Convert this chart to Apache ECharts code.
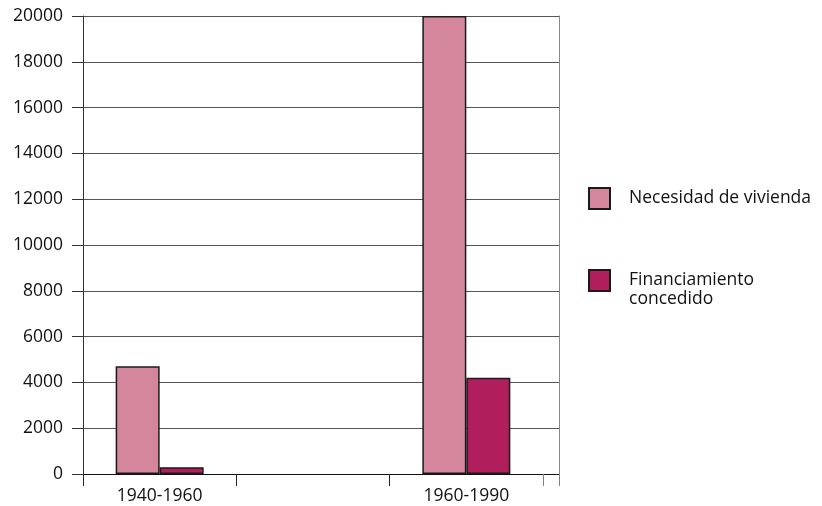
<!DOCTYPE html>
<html><head><meta charset="utf-8">
<script src="https://cdn.jsdelivr.net/npm/echarts@6/dist/echarts.min.js"></script>
<style>html,body{margin:0;padding:0;background:#fff}#c{width:822px;height:506px}</style>
</head><body><div id="c"></div>
<script>
const categories = ["1940-1960", "", "1960-1990"];
const seriesNames = ["Necesidad de vivienda", "Financiamiento concedido"];
const necesidad = [4700, null, 20000];
const financiamiento = [300, null, 4200];
const yTicks = {min: 0, max: 20000, interval: 2000};

const FONT = "Open Sans";
const FS = 17.5;
const chart = echarts.init(document.getElementById('c'));
const gridTop = 16, gridBottom = 506 - 474;
chart.setOption({
  animation: false,
  textStyle: {fontFamily: FONT},
  grid: [
    {left: 83, width: 460, top: gridTop, bottom: gridBottom},
    {left: 543, width: 16, top: gridTop, bottom: gridBottom}
  ],
  xAxis: [
    {type: 'category', gridIndex: 0, data: categories,
     axisLine: {lineStyle: {color: '#111', width: 1}},
     axisTick: {show: true, length: 12, lineStyle: {color: '#222'}},
     axisLabel: {color: '#111', fontSize: FS, fontFamily: FONT, margin: 13}},
    {type: 'category', gridIndex: 1, data: [""],
     axisLine: {lineStyle: {color: '#111', width: 1}},
     axisTick: {show: true, length: 12, lineStyle: {color: '#808080'}},
     axisLabel: {show: false}}
  ],
  yAxis: [
    {type: 'value', gridIndex: 0, min: yTicks.min, max: yTicks.max, interval: yTicks.interval,
     axisLine: {show: true, lineStyle: {color: '#333'}},
     axisTick: {show: true, length: 11, lineStyle: {color: '#333'}},
     splitLine: {lineStyle: {color: '#555', width: 1}},
     axisLabel: {color: '#111', fontSize: FS, fontFamily: FONT, margin: 20,
                 formatter: v => String(v)}},
    {type: 'value', gridIndex: 1, position: 'right', min: yTicks.min, max: yTicks.max, interval: yTicks.interval,
     axisLine: {show: true, lineStyle: {color: '#888'}},
     axisTick: {show: false},
     splitLine: {lineStyle: {color: '#555', width: 1}},
     axisLabel: {show: false}}
  ],
  legend: [
    {data: [seriesNames[0]], orient: 'vertical', left: 583, top: 182, icon: 'rect',
     itemWidth: 21, itemHeight: 21, itemGap: 10,
     textStyle: {color: '#111', fontSize: FS, fontFamily: FONT, padding: [0, 0, 0, 14]}},
    {data: [seriesNames[1]], orient: 'vertical', left: 583, top: 247, icon: 'rect',
     itemWidth: 21, itemHeight: 21, itemGap: 10,
     formatter: n => '\u00a0\n' + n.replace(' ', '\n'),
     textStyle: {color: '#111', fontSize: FS, fontFamily: FONT, lineHeight: 19, padding: [0, 0, 0, 14]}}
  ],
  series: [
    {name: seriesNames[0], type: 'bar', xAxisIndex: 0, yAxisIndex: 0, data: necesidad,
     barWidth: 44, barGap: '0%',
     itemStyle: {color: '#D4879C', borderColor: '#1a1a1a', borderWidth: 1.5}},
    {name: seriesNames[1], type: 'bar', xAxisIndex: 0, yAxisIndex: 0, data: financiamiento,
     barWidth: 44, barGap: '0%',
     itemStyle: {color: '#B01F5C', borderColor: '#1a1a1a', borderWidth: 1.5}}
  ]
});
</script></body></html>
